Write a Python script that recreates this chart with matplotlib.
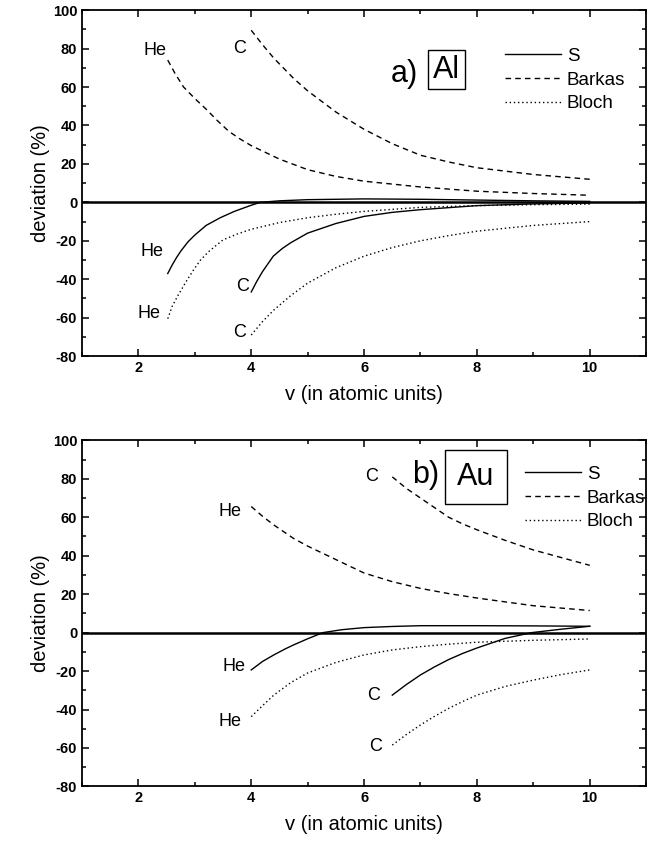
import numpy as np
import matplotlib.pyplot as plt

plt.rcParams['font.family'] = ['Liberation Sans', 'DejaVu Sans']
plt.rcParams['axes.unicode_minus'] = False

# panel a) Al
al_he_barkas_v = [2.52, 2.65, 2.8, 3.0, 3.2, 3.4, 3.6, 3.8, 4.0, 4.5, 5.0, 5.5, 6.0, 7.0, 8.0, 9.0, 10.0]
al_he_barkas_d = [74, 67, 60, 54, 48.5, 42.5, 37, 33, 29.5, 22.5, 17, 13.5, 11, 8, 5.8, 4.6, 3.7]
al_c_barkas_v = [4.0, 4.2, 4.4, 4.75, 5.0, 5.5, 6.0, 6.5, 7.0, 7.5, 8.0, 9.0, 10.0]
al_c_barkas_d = [89.5, 82, 75, 64.5, 58, 47, 38, 30.5, 24.5, 21, 18, 14.5, 12]
al_he_s_v = [2.52, 2.6, 2.68, 2.76, 2.88, 3.0, 3.2, 3.45, 3.7, 4.0, 4.16, 4.5, 5.0, 6.0, 7.0, 8.0, 9.0, 10.0]
al_he_s_d = [-37, -32.5, -28.5, -25, -20.5, -17, -12, -8, -4.7, -1.5, 0, 0.8, 1.4, 1.8, 1.6, 1.2, 0.8, 0.5]
al_c_s_v = [4.0, 4.1, 4.2, 4.39, 4.55, 4.7, 5.0, 5.5, 6.0, 6.5, 7.0, 8.0, 9.0, 10.0]
al_c_s_d = [-46.6, -41, -36, -28, -24, -21, -16, -11, -7.3, -5.2, -3.8, -1.7, -0.8, -0.3]
al_he_bloch_v = [2.52, 2.6, 2.7, 2.85, 2.98, 3.1, 3.25, 3.5, 3.75, 4.0, 4.5, 5.0, 5.5, 6.0, 7.0, 8.0, 9.0, 10.0]
al_he_bloch_d = [-60.5, -54, -48.5, -41, -35, -30, -25.5, -19.5, -16.5, -14, -10.5, -8, -6.2, -4.7, -2.6, -1.7, -1.2, -0.9]
al_c_bloch_v = [4.0, 4.1, 4.2, 4.4, 4.7, 5.0, 5.5, 6.0, 6.5, 7.0, 7.5, 8.0, 9.0, 10.0]
al_c_bloch_d = [-69, -65.5, -62, -56, -48.5, -42, -34, -28, -23.5, -20, -17.3, -15, -12, -10]

# panel b) Au
au_he_barkas_v = [4.0, 4.2, 4.4, 4.75, 5.0, 5.5, 6.0, 6.5, 7.0, 7.5, 8.0, 9.0, 10.0]
au_he_barkas_d = [65.6, 60.5, 56, 49, 45, 38, 31, 26.5, 23, 20.3, 18, 14, 11.5]
au_c_barkas_v = [6.5, 6.75, 7.0, 7.25, 7.5, 7.75, 8.0, 8.5, 9.0, 9.5, 10.0]
au_c_barkas_d = [81, 75, 70, 65, 60, 56.5, 53.5, 48, 43, 39, 35]
au_he_s_v = [4.0, 4.2, 4.4, 4.6, 4.75, 5.0, 5.27, 5.6, 6.0, 6.5, 7.0, 8.0, 9.0, 10.0]
au_he_s_d = [-19.4, -15, -11.6, -8.5, -6.4, -3.2, 0, 1.5, 2.6, 3.2, 3.6, 3.6, 3.5, 3.3]
au_c_s_v = [6.5, 6.75, 7.0, 7.25, 7.5, 7.75, 8.0, 8.5, 8.97, 9.5, 10.0]
au_c_s_d = [-32.5, -27, -22, -17.8, -14, -10.8, -8, -3, 0, 1.8, 3.3]
au_he_bloch_v = [4.0, 4.2, 4.4, 4.7, 5.0, 5.5, 6.0, 6.5, 7.0, 7.5, 8.0, 9.0, 10.0]
au_he_bloch_d = [-43.7, -38, -32.5, -26, -21, -15.5, -11.6, -9, -7.3, -6, -5, -4, -3.3]
au_c_bloch_v = [6.5, 6.75, 7.0, 7.25, 7.5, 7.75, 8.0, 8.5, 9.0, 9.5, 10.0]
au_c_bloch_d = [-58.5, -53, -48, -43.5, -39.4, -35.8, -32.5, -28, -24.7, -21.8, -19.4]

ion_labels = ['He', 'C']

fig = plt.figure(figsize=(6.56, 8.42), dpi=100)
ax1 = fig.add_axes([0.125, 0.577, 0.86, 0.411])
ax2 = fig.add_axes([0.125, 0.066, 0.86, 0.411])

def setup(ax):
    ax.set_xlim(1, 11)
    ax.set_ylim(-80, 100)
    ax.set_xticks([2, 4, 6, 8, 10])
    ax.set_xticks([1, 3, 5, 7, 9, 11], minor=True)
    ax.set_yticks(np.arange(-80, 101, 20))
    ax.set_yticks(np.arange(-70, 100, 20), minor=True)
    ax.tick_params(which='both', direction='in', top=True, right=True, width=1.1)
    ax.tick_params(which='major', length=5, labelsize=10.5)
    ax.tick_params(which='minor', length=3)
    for lab in ax.get_xticklabels() + ax.get_yticklabels():
        lab.set_fontweight('bold')
    for sp in ax.spines.values():
        sp.set_linewidth(1.3)
    ax.axhline(0, color='black', lw=1.8)
    ax.set_xlabel('v (in atomic units)', fontsize=14.5, labelpad=7)
    ax.set_ylabel('deviation (%)', fontsize=14.5, labelpad=2)

for ax in (ax1, ax2):
    setup(ax)

fs_ion = 13

# Al
ls, = ax1.plot(al_he_s_v, al_he_s_d, 'k-', lw=1, label='S')
ax1.plot(al_c_s_v, al_c_s_d, 'k-', lw=1)
lb, = ax1.plot(al_he_barkas_v, al_he_barkas_d, 'k', ls=(0, (4, 3)), lw=1, label='Barkas')
ax1.plot(al_c_barkas_v, al_c_barkas_d, 'k', ls=(0, (4, 3)), lw=1)
lc, = ax1.plot(al_he_bloch_v, al_he_bloch_d, 'k', ls=(0, (1, 2)), lw=1, label='Bloch')
ax1.plot(al_c_bloch_v, al_c_bloch_d, 'k', ls=(0, (1, 2)), lw=1)
ax1.legend(handles=[ls, lb, lc], loc='upper left', bbox_to_anchor=(0.72, 0.94),
           frameon=False, fontsize=13.5, handlelength=3.0, labelspacing=0.35,
           handletextpad=0.3)
ax1.text(2.3, 79, ion_labels[0], fontsize=fs_ion, ha='center', va='center')
ax1.text(3.8, 80, ion_labels[1], fontsize=fs_ion, ha='center', va='center')
ax1.text(2.24, -25.6, ion_labels[0], fontsize=fs_ion, ha='center', va='center')
ax1.text(3.85, -44, ion_labels[1], fontsize=fs_ion, ha='center', va='center')
ax1.text(2.18, -58, ion_labels[0], fontsize=fs_ion, ha='center', va='center')
ax1.text(3.8, -67.5, ion_labels[1], fontsize=fs_ion, ha='center', va='center')
ax1.text(6.72, 67, 'a)', fontsize=22, ha='center', va='center')
ax1.text(7.46, 69, 'Al', fontsize=22, ha='center', va='center',
         bbox=dict(boxstyle='square,pad=0.15', fc='white', ec='black', lw=1))

# Au
ls2, = ax2.plot(au_he_s_v, au_he_s_d, 'k-', lw=1, label='S')
ax2.plot(au_c_s_v, au_c_s_d, 'k-', lw=1)
lb2, = ax2.plot(au_he_barkas_v, au_he_barkas_d, 'k', ls=(0, (4, 3)), lw=1, label='Barkas')
ax2.plot(au_c_barkas_v, au_c_barkas_d, 'k', ls=(0, (4, 3)), lw=1)
lc2, = ax2.plot(au_he_bloch_v, au_he_bloch_d, 'k', ls=(0, (1, 2)), lw=1, label='Bloch')
ax2.plot(au_c_bloch_v, au_c_bloch_d, 'k', ls=(0, (1, 2)), lw=1)
ax2.legend(handles=[ls2, lb2, lc2], loc='upper left', bbox_to_anchor=(0.755, 0.975),
           frameon=False, fontsize=13.5, handlelength=3.0, labelspacing=0.35,
           handletextpad=0.3)
ax2.text(6.13, 81, ion_labels[1], fontsize=fs_ion, ha='center', va='center')
ax2.text(3.63, 63, ion_labels[0], fontsize=fs_ion, ha='center', va='center')
ax2.text(3.7, -17.7, ion_labels[0], fontsize=fs_ion, ha='center', va='center')
ax2.text(6.16, -32.5, ion_labels[1], fontsize=fs_ion, ha='center', va='center')
ax2.text(3.63, -46, ion_labels[0], fontsize=fs_ion, ha='center', va='center')
ax2.text(6.2, -59.4, ion_labels[1], fontsize=fs_ion, ha='center', va='center')
ax2.text(7.09, 82, 'b)', fontsize=22, ha='center', va='center')
ax2.text(7.98, 81, 'Au', fontsize=22, ha='center', va='center',
         bbox=dict(boxstyle='square,pad=0.4', fc='white', ec='black', lw=1))

fig.savefig('out.png', dpi=100)
